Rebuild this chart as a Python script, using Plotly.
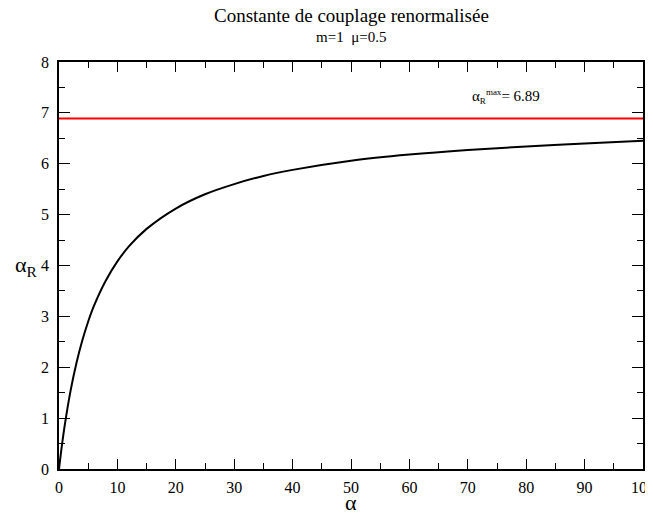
import plotly.graph_objects as go

alpha = [0, 0.5, 1, 2, 3, 4, 5, 6, 8, 10, 12, 15, 20, 25, 30, 35, 40, 50, 60, 70, 80, 90, 100]
alpha_r = [0, 0.466, 0.873, 1.55, 2.09, 2.53, 2.90, 3.21, 3.70, 4.08, 4.38, 4.72, 5.12, 5.40,
           5.60, 5.76, 5.88, 6.06, 6.18, 6.27, 6.34, 6.40, 6.45]
alpha_r_max = 6.89
x_range = [0, 100]
y_range = [0, 8]

serif = "Liberation Serif, Times New Roman, Times, serif"
fig = go.Figure()
fig.add_trace(go.Scatter(x=x_range, y=[alpha_r_max, alpha_r_max], mode="lines",
                         line=dict(color="#ff0000", width=2), showlegend=False))
fig.add_trace(go.Scatter(x=alpha, y=alpha_r, mode="lines", line_shape="spline",
                         line=dict(color="black", width=2), showlegend=False))

axis_common = dict(showgrid=False, zeroline=False, showline=True, linecolor="black", linewidth=1.5,
                   mirror="allticks", ticks="inside", tickcolor="black", tickwidth=1,
                   automargin=False, ticklabeloverflow="allow",
                   tickfont=dict(family=serif, size=16, color="black"))
fig.update_xaxes(range=x_range, dtick=10, ticklen=10, ticklabelstandoff=3,
                 minor=dict(dtick=5, ticks="inside", ticklen=6, tickcolor="black"),
                 **axis_common)
fig.update_yaxes(range=y_range, dtick=1, ticklen=11, ticklabelstandoff=5,
                 minor=dict(dtick=0.5, ticks="inside", ticklen=6, tickcolor="black"),
                 **axis_common)

fig.add_annotation(x=0.5, y=0, xref="paper", yref="paper", yshift=-19, showarrow=False,
                   xanchor="center", yanchor="top",
                   text="α", font=dict(family=serif, size=22, color="black"))
fig.add_annotation(x=-0.033, y=4, xref="paper", yref="y", xanchor="right", showarrow=False,
                   text="α<sub>R</sub>", font=dict(family=serif, size=22, color="black"))
fig.add_annotation(x=76.5, y=7.32, xref="x", yref="y", showarrow=False,
                   text="α<sub><span style='font-size:9px'>R</span></sub><sup><span style='font-size:9px'>max</span></sup>= 6.89",
                   font=dict(family=serif, size=15, color="black"))
fig.add_annotation(x=0.5, y=1, xref="paper", yref="paper", yshift=34, showarrow=False,
                   xanchor="center", yanchor="bottom",
                   text="Constante de couplage renormalisée",
                   font=dict(family=serif, size=19, color="black"))
fig.add_annotation(x=0.5, y=1, xref="paper", yref="paper", yshift=15, showarrow=False,
                   xanchor="center", yanchor="bottom",
                   text="m=1  μ=0.5",
                   font=dict(family=serif, size=15, color="black"))

fig.update_layout(
    width=645, height=506,
    margin=dict(l=51, r=10, t=54, b=45),
    paper_bgcolor="white", plot_bgcolor="white",
)
fig.write_html("out.html")
